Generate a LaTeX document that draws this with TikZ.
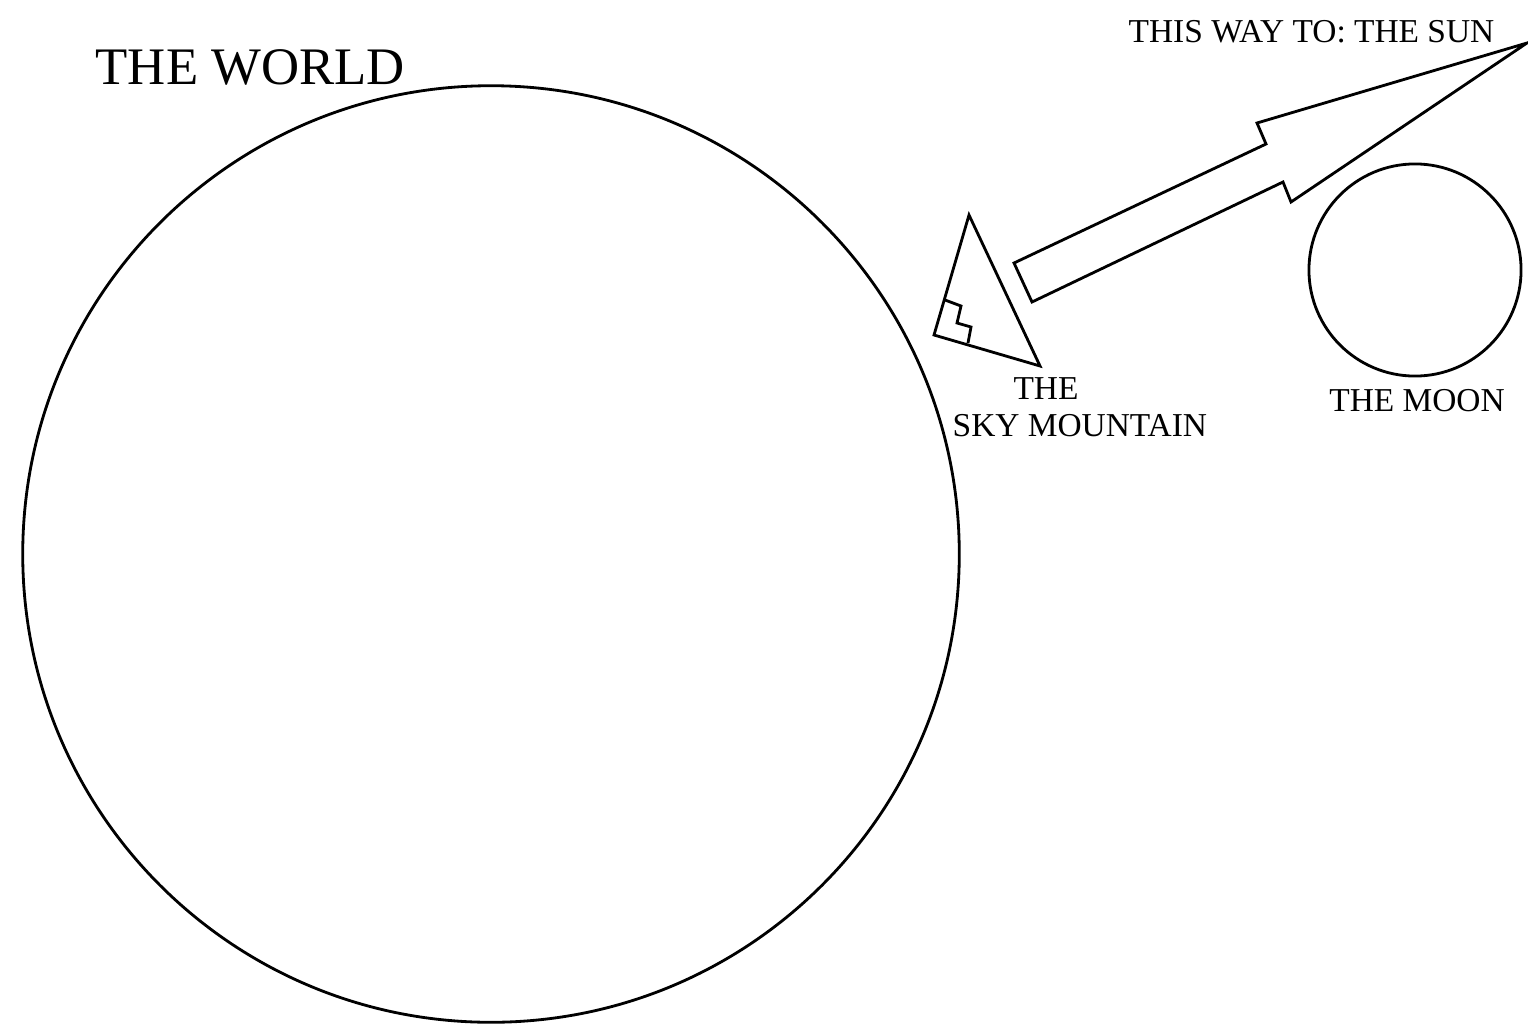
\documentclass[tikz,border=0pt]{standalone}
\usepackage{fontspec}
\setmainfont{Liberation Serif}
\usepackage{tikz}
\usetikzlibrary{positioning}
\definecolor{ink}{HTML}{000000}
\tikzset{
  body/.style={circle, draw=ink, line width=0.8pt, inner sep=0pt},
  outline/.style={draw=ink, line width=0.8pt, line join=miter},
  maplabel/.style={font=\fontsize{9.5}{11}\selectfont, inner sep=0pt, text=ink},
  titlelabel/.style={font=\fontsize{15}{17}\selectfont, inner sep=0pt, text=ink},
}
\begin{document}
\begin{tikzpicture}[x=0.01cm, y=-0.01cm]
\useasboundingbox (0,0) rectangle (1528,1024);
% bodies
\node[body, minimum size=9.36cm] (world) at (491,554) {};
\node[body, minimum size=2.12cm] (moon) at (1415,270) {};
% the sky mountain
\draw[outline] (969,215) -- (1040,366) -- (934,335) -- cycle;
\draw[outline] (945,300) -- (961,306) -- (957,323) -- (971,327) -- (968,343);
% arrow to the sun
\draw[outline] (1014,263) -- (1266,144) -- (1257,123) -- (1527,43)
  -- (1291,202) -- (1283,182) -- (1032,302) -- cycle;
% labels
\node[titlelabel, anchor=base west] (worldlabel) at (95,84) {THE WORLD};
\node[maplabel, anchor=base east] (sunlabel) at (1495,42) {THIS WAY TO: THE SUN};
\node[maplabel, anchor=base] (mountlabel) at (1046,399) {THE};
\node[maplabel, anchor=base west] (mountlabel2) at (952,436) {SKY MOUNTAIN};
\node[maplabel, anchor=base] (moonlabel) at (1417,411) {THE MOON};
\end{tikzpicture}
\end{document}
